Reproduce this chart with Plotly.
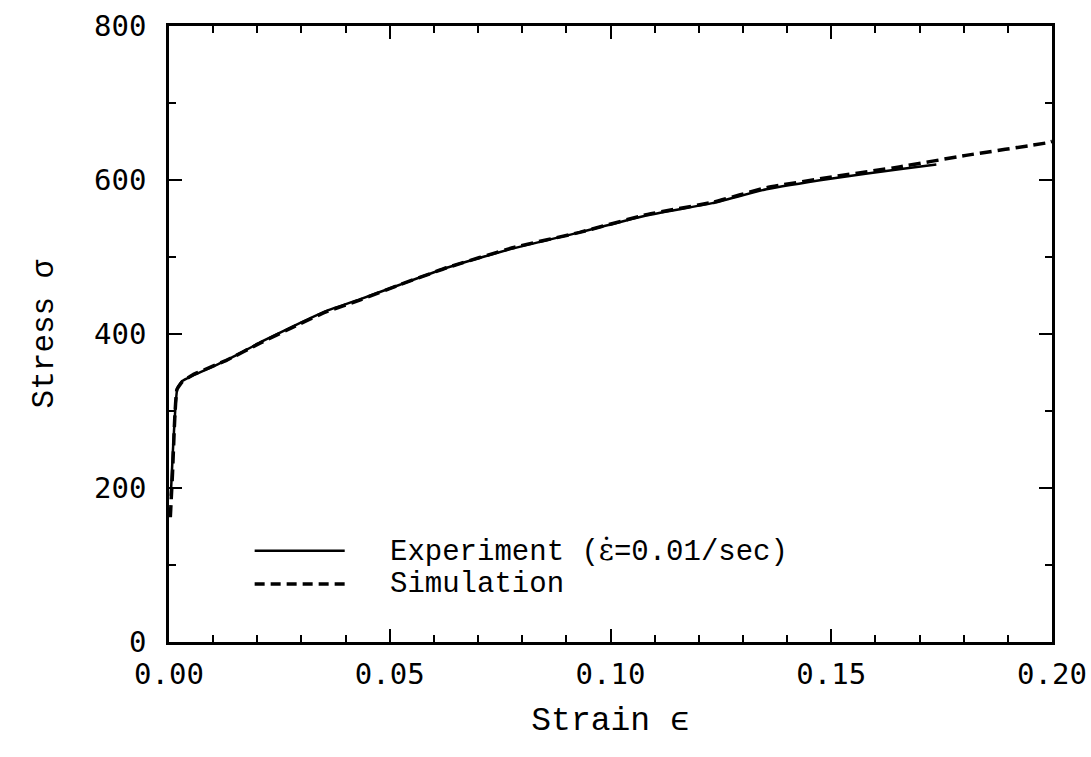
import plotly.graph_objects as go

# Simulation curve (strain, stress)
sim_strain = [0.0003, 0.0008, 0.0013, 0.0018, 0.0030, 0.0054, 0.0131, 0.0206, 0.0281,
              0.0357, 0.0432, 0.0523, 0.0629, 0.0778, 0.0930, 0.1081, 0.1231, 0.1353,
              0.1502, 0.1654, 0.1805, 0.1986, 0.2000]
sim_stress = [162, 220, 290, 328, 338, 347, 366, 388, 409,
              429, 444, 464, 486, 512, 532, 555, 571, 590,
              604, 617, 632, 648, 650]

# Experiment curve (strain rate 0.01/sec)
exp_strain = [0.0004, 0.0009, 0.0014, 0.0019, 0.0030, 0.0054, 0.0131, 0.0206, 0.0281,
              0.0357, 0.0432, 0.0523, 0.0629, 0.0778, 0.0930, 0.1081, 0.1231, 0.1353,
              0.1502, 0.1654, 0.1738]
exp_stress = [190, 250, 300, 330, 339, 346, 366, 389, 410,
              430, 445, 464, 486, 511, 532, 554, 570, 588,
              602, 614, 620]

x_ticks = [0.00, 0.05, 0.10, 0.15, 0.20]
x_tick_labels = ["0.00", "0.05", "0.10", "0.15", "0.20"]
y_ticks = [0, 200, 400, 600, 800]

legend_labels = ['Experiment (<span style="font-family:DejaVu Serif">\u03b5\u0307</span>=0.01/sec)',
                 "Simulation"]

fig = go.Figure()
fig.add_trace(go.Scatter(x=exp_strain, y=exp_stress, mode="lines",
                         line=dict(color="black", width=2.5, shape="spline", smoothing=0.4),
                         showlegend=False))
fig.add_trace(go.Scatter(x=sim_strain, y=sim_stress, mode="lines",
                         line=dict(color="black", width=3.5, dash="12px,6px",
                                   shape="spline", smoothing=0.4),
                         showlegend=False))

# legend drawn manually
leg_y = [0.148, 0.094]
leg_dash = ["solid", "10px,6px"]
leg_w = [2.5, 3.5]
for lbl, yy, dsh, w in zip(legend_labels, leg_y, leg_dash, leg_w):
    fig.add_shape(type="line", xref="paper", yref="paper",
                  x0=0.097, x1=0.199, y0=yy, y1=yy,
                  line=dict(color="black", width=w, dash=dsh))
    fig.add_annotation(xref="paper", yref="paper", x=0.248, y=yy, text=lbl,
                       showarrow=False, xanchor="left", yanchor="middle",
                       font=dict(family="Liberation Mono", size=29, color="black"))

axis_common = dict(
    showline=True, linecolor="black", linewidth=2.5, mirror="allticks",
    ticks="inside", ticklen=13, tickwidth=2, tickcolor="black",
    showgrid=False, zeroline=False, automargin=False,
    tickfont=dict(family="DejaVu Sans Mono", size=29, color="black"),
)

fig.update_layout(
    width=1091, height=757,
    margin=dict(l=169, r=39, t=26, b=115),
    paper_bgcolor="white", plot_bgcolor="white",
    xaxis=dict(range=[0, 0.2], tickvals=x_ticks, ticktext=x_tick_labels,
               ticklabelstandoff=4,
               minor=dict(dtick=0.01, ticks="inside", ticklen=7, tickwidth=2,
                          tickcolor="black", showgrid=False),
               title=dict(text="Strain \u03f5", standoff=18,
                          font=dict(family="Liberation Mono", size=33, color="black")),
               **axis_common),
    yaxis=dict(range=[0, 800], tickvals=y_ticks, ticklabelstandoff=14,
               minor=dict(dtick=100, ticks="inside", ticklen=7, tickwidth=2,
                          tickcolor="black", showgrid=False),
               title=dict(text="Stress \u03c3", standoff=32,
                          font=dict(family="Liberation Mono", size=31, color="black")),
               **axis_common),
)

fig.write_html("out.html")
